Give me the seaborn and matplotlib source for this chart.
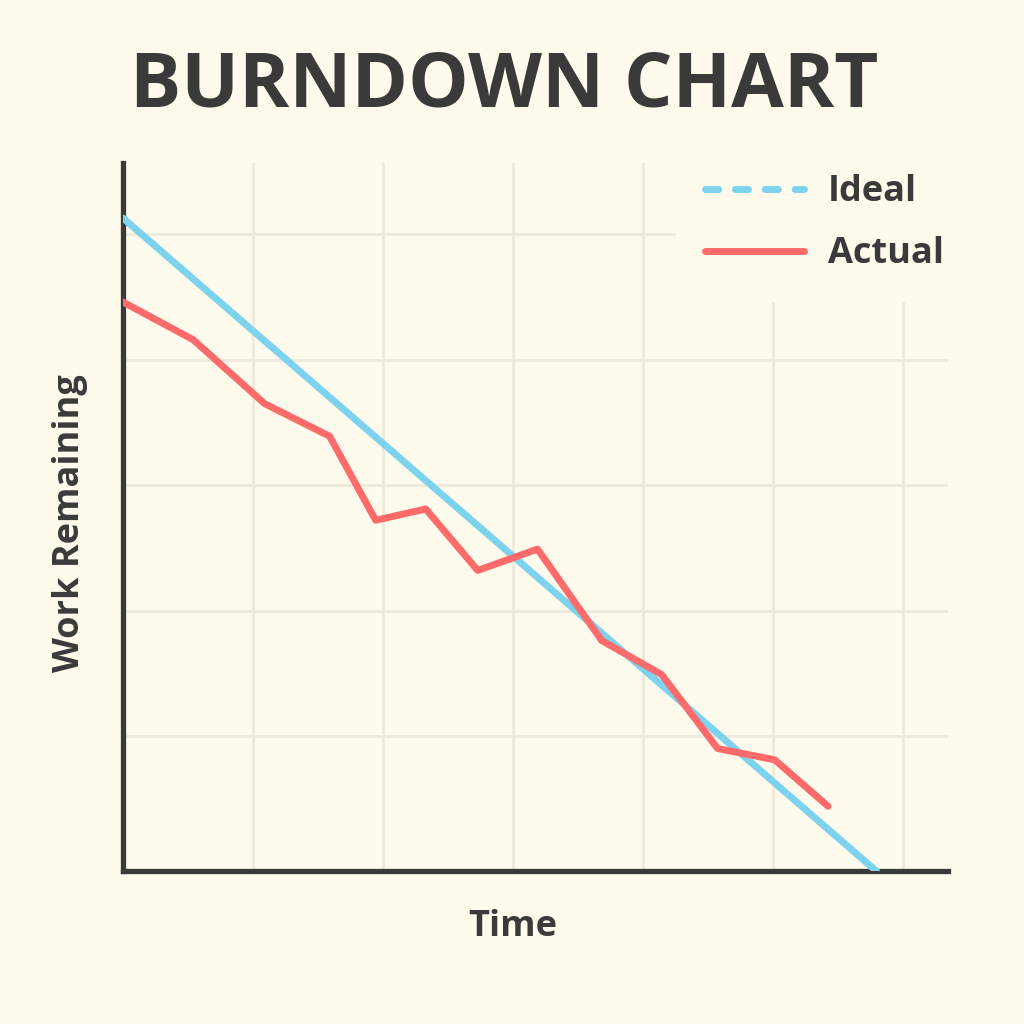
import matplotlib as mpl
mpl.use('Agg')
import matplotlib.pyplot as plt
from matplotlib.lines import Line2D
import pandas as pd
import seaborn as sns

# data (x = days, y = work units)
ideal_x = [0, 11.6]
ideal_y = [51.3, -0.8]
actual_x = [0, 1.08, 2.18, 3.18, 3.89, 4.66, 5.46, 6.38, 7.37, 8.29, 9.15, 10.03, 10.85]
actual_y = [44.6, 41.6, 36.5, 33.9, 27.2, 28.1, 23.2, 24.9, 17.6, 14.9, 9.0, 8.1, 4.4]
x_grid = [2, 4, 6, 8, 10, 12]
y_grid = [10, 20, 30, 40, 50]

BG = '#FEFBEC'
INK = '#3A3A3A'
BLUE = '#7DD3EE'
RED = '#FF6B6B'

sns.set_theme(style='whitegrid', rc={
	'figure.facecolor': BG, 'axes.facecolor': BG,
	'grid.color': '#EFEBDC', 'grid.linewidth': 2.2,
})
plt.rcParams['font.family'] = ['Open Sans', 'DejaVu Sans']

df = pd.concat([
	pd.DataFrame({'t': ideal_x, 'work': ideal_y, 'series': 'Ideal'}),
	pd.DataFrame({'t': actual_x, 'work': actual_y, 'series': 'Actual'}),
])

fig = plt.figure(figsize=(10.24, 10.24), dpi=100)
ax = fig.add_axes([0.120, 0.149, 0.806, 0.692])

sns.lineplot(data=df, x='t', y='work', hue='series', palette={'Ideal': BLUE, 'Actual': RED},
	linewidth=5, sort=False, legend=False, ax=ax, solid_capstyle='round', zorder=3)

ax.set_xlim(0, 12.7)
ax.set_ylim(-0.8, 55.7)
ax.set_xticks(x_grid)
ax.set_yticks(y_grid)
ax.tick_params(length=0, labelbottom=False, labelleft=False)
for side in ['top', 'right']:
	ax.spines[side].set_visible(False)
for side in ['left', 'bottom']:
	ax.spines[side].set_color(INK)
	ax.spines[side].set_linewidth(3.8)

ax.set_xlabel('Time', fontsize=26, fontweight='bold', color=INK)
ax.set_ylabel('Work Remaining', fontsize=26, fontweight='bold', color=INK)
ax.xaxis.set_label_coords(0.472, -0.053)
ax.yaxis.set_label_coords(-0.042, 0.492)

#legend: ideal shown dashed, covers grid in the corner
handles = [
	Line2D([], [], color=BLUE, lw=5, dashes=(1.9, 2.4), dash_capstyle='round'),
	Line2D([], [], color=RED, lw=5, solid_capstyle='round'),
]
leg = ax.legend(handles, ['Ideal', 'Actual'], loc='upper right', bbox_to_anchor=(1.0, 0.99),
	fontsize=26, frameon=True, facecolor=BG, edgecolor='none', framealpha=1,
	handlelength=2.75, handletextpad=0.65, labelspacing=0.72, borderpad=0.12, borderaxespad=0)
leg.get_frame().set_boxstyle('square', pad=0.7)
for t in leg.get_texts():
	t.set_color(INK)
	t.set_fontweight('bold')

fig.text(0.492, 0.915, 'BURNDOWN CHART', ha='center', va='center', fontsize=55,
	fontweight='bold', color=INK)

plt.savefig('out.png', dpi=100, facecolor=BG)
